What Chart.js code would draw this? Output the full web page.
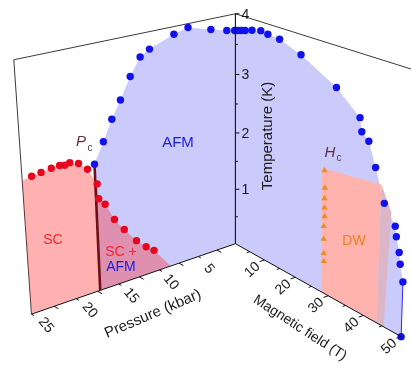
<!DOCTYPE html>
<html>
<head>
<meta charset="utf-8">
<script src="https://cdn.jsdelivr.net/npm/chart.js@4.4.1/dist/chart.umd.min.js"></script>
<style>
  html, body { margin: 0; padding: 0; background: #fff; }
  #wrap { position: relative; width: 411px; height: 369px; }
</style>
</head>
<body>
<div id="wrap"><canvas id="chart"></canvas></div>
<script>
// axis ranges of the two walls
const tempRange = [0, 4];          // K
const pressureRange = [2.5, 27.5]; // kbar, corner -> far left edge
const fieldRange = [0, 50];        // T, corner -> far right edge

// tick labels
const tempTicks = [1, 2, 3, 4];
const pressureTicks = [5, 10, 15, 20, 25];
const fieldTicks = [10, 20, 30, 40, 50];

// pressure wall: AFM transition (blue dots), from Pc towards the corner
const afmPressure = [19.7, 18.6, 17.55, 16.5, 15.3, 14.1, 13.0, 10.1, 8.4, 5.6, 3.6, 2.6];
const afmPressureTemp = [2.13, 2.45, 2.77, 3.04, 3.37, 3.64, 3.73, 3.88, 3.94, 3.83, 3.76, 3.73];

// pressure wall: SC transition (red dots)
const scPressure = [26.5, 25.5, 24.4, 23.5, 22.95, 22.4, 21.45, 20.5, 19.5, 19.4, 18.7, 17.7, 16.6, 15.2, 14.05, 13.1];
const scTemp = [2.21, 2.23, 2.25, 2.26, 2.24, 2.26, 2.21, 2.08, 1.80, 1.55, 1.43, 1.13, 0.91, 0.65, 0.49, 0.38];
const scEdgePressure = [27.5, 11.1]; // where the SC area meets the far wall and the floor
const scEdgeTemp = [2.18, 0];

// critical pressure line
const pcPressure = [19.7, 19.7];
const pcTemp = [0, 2.13];

// field wall: AFM transition (blue dots)
const afmField = [0.7, 1.9, 3.2, 5.4, 8.2, 10.4, 14.0, 20.4, 30.5, 37.0, 37.6, 39.5, 41.5, 44.1, 47.1, 47.5, 48.4, 48.8, 49.7, 50.0];
const afmFieldTemp = [3.74, 3.76, 3.78, 3.82, 3.86, 3.84, 3.82, 3.69, 3.38, 3.06, 2.86, 2.76, 2.41, 1.93, 1.66, 1.51, 1.29, 1.12, 0.87, 0.0];

// field wall: Hc (orange triangles)
const hcField = [27.9, 28.1, 28.1, 28.2, 28.3, 28.1, 28.2, 28.3, 28.4];
const hcTemp = [2.03, 1.75, 1.58, 1.43, 1.29, 1.12, 0.91, 0.67, 0.54];

// field wall: DW area and the overlap band next to it
const dwField = [27.2, 43.2, 43.6, 28.0];
const dwTemp = [2.05, 2.19, 0, 0];
const bandField = [43.2, 46.0, 45.4, 43.6];
const bandTemp = [2.19, 1.84, 0, 0];

// where the box corners land on the page
const pressureWall = { near0: [236, 245], far0: [28, 317], far1: [10, 57], near1: [236, 10] };
const fieldWall = { near0: [236, 245], far0: [405, 340], far1: [420, 68], near1: [236, 10] };

// square -> quad projective map, so each wall gets its perspective
function makeWall(c, range) {
    const [x0, y0] = c.near0, [x1, y1] = c.far0, [x2, y2] = c.far1, [x3, y3] = c.near1;
    const dx1 = x1 - x2, dx2 = x3 - x2, dx3 = x0 - x1 + x2 - x3;
    const dy1 = y1 - y2, dy2 = y3 - y2, dy3 = y0 - y1 + y2 - y3;
    const den = dx1 * dy2 - dx2 * dy1;
    const g = (dx3 * dy2 - dx2 * dy3) / den;
    const h = (dx1 * dy3 - dx3 * dy1) / den;
    const a = x1 - x0 + g * x1, b = x3 - x0 + h * x3;
    const d = y1 - y0 + g * y1, e = y3 - y0 + h * y3;
    return function(val, temp) {
        const u = (val - range[0]) / (range[1] - range[0]);
        const v = (temp - tempRange[0]) / (tempRange[1] - tempRange[0]);
        const w = g * u + h * v + 1;
        return { x: (a * u + b * v + x0) / w, y: (d * u + e * v + y0) / w };
    };
}

const toP = makeWall(pressureWall, pressureRange);
const toH = makeWall(fieldWall, fieldRange);

function pts(proj, vals, temps) {
    return vals.map((v, i) => proj(v, temps[i]));
}

const nearP = pressureRange[0], farP = pressureRange[1];

const afmPressureFill = [toP(pcPressure[0], 0)]
    .concat(pts(toP, afmPressure, afmPressureTemp))
    .concat([toP(nearP, afmPressureTemp[afmPressureTemp.length - 1]), toP(nearP, 0)]);

const scFill = [toP(scEdgePressure[0], scEdgeTemp[0])]
    .concat(pts(toP, scPressure, scTemp))
    .concat([toP(scEdgePressure[1], scEdgeTemp[1]), toP(farP, 0)]);

const afmFieldFill = [toH(0, 0), toH(0, afmFieldTemp[0])]
    .concat(pts(toH, afmField, afmFieldTemp));

// thin blue edge where the AFM area reaches the 50 T wall
const afmFieldEdge = pts(toH, afmField.slice(-2), afmFieldTemp.slice(-2));

const FONT = '"Liberation Sans", Arial, Helvetica, sans-serif';

function text(ctx, str, x, y, o) {
    ctx.save();
    ctx.translate(x, y);
    if (o.rot) ctx.rotate(o.rot * Math.PI / 180);
    ctx.font = o.font;
    ctx.fillStyle = o.color || '#1a1a1a';
    ctx.textAlign = o.align || 'center';
    ctx.textBaseline = 'middle';
    ctx.fillText(str, 0, 0);
    ctx.restore();
}

function seg(ctx, p, q, color, width) {
    ctx.beginPath();
    ctx.moveTo(p[0], p[1]);
    ctx.lineTo(q[0], q[1]);
    ctx.strokeStyle = color;
    ctx.lineWidth = width;
    ctx.stroke();
}

const boxPlugin = {
    id: 'box',
    beforeDatasetsDraw(chart) {
        const ctx = chart.ctx;
        const sx = chart.scales.x, sy = chart.scales.y;
        const px = pt => [sx.getPixelForValue(pt.x), sy.getPixelForValue(pt.y)];
        ctx.save();
        // back edges of the box
        seg(ctx, px(toP(nearP, 4)), px(toP(farP, 4)), '#3a3a3a', 1);
        seg(ctx, px(toP(farP, 4)), px(toP(farP, 0)), '#3a3a3a', 1);
        seg(ctx, px(toH(0, 4)), px(toH(50, 4)), '#3a3a3a', 1);
        ctx.restore();
    },
    afterDatasetsDraw(chart) {
        const ctx = chart.ctx;
        const sx = chart.scales.x, sy = chart.scales.y;
        const px = pt => [sx.getPixelForValue(pt.x), sy.getPixelForValue(pt.y)];
        ctx.save();

        const corner0 = px(toP(nearP, 0));
        const pEnd = px(toP(farP, 0));
        const hEnd = px(toH(50, 0));
        seg(ctx, corner0, pEnd, '#111', 1);
        seg(ctx, corner0, hEnd, '#111', 1);
        seg(ctx, corner0, px(toP(nearP, 4)), '#111', 1.1);

        const norm = (a, b) => {
            const dx = b[0] - a[0], dy = b[1] - a[1], l = Math.hypot(dx, dy);
            return [dx / l, dy / l];
        };
        const pDir = norm(corner0, pEnd);
        const hDir = norm(corner0, hEnd);

        // pressure ticks point along the field direction
        for (let p = 5; p <= 27.5; p += 2.5) {
            const t = px(toP(p, 0));
            const len = p % 5 === 0 ? 5 : 3;
            seg(ctx, t, [t[0] + hDir[0] * len, t[1] + hDir[1] * len], '#111', 1);
        }
        pressureTicks.forEach(p => {
            const t = px(toP(p, 0));
            text(ctx, String(p), t[0] - 8, t[1] + 19, { font: '14px ' + FONT, rot: 50 });
        });

        // field ticks point along the pressure direction
        for (let f = 5; f <= 50; f += 5) {
            const t = px(toH(f, 0));
            const len = f % 10 === 0 ? 5 : 3;
            seg(ctx, t, [t[0] + pDir[0] * len, t[1] + pDir[1] * len], '#111', 1);
        }
        fieldTicks.forEach(f => {
            const t = px(toH(f, 0));
            text(ctx, String(f), t[0] - 12, t[1] + 10, { font: '14px ' + FONT, rot: -42 });
        });

        // temperature ticks on the corner edge
        for (let k = 0.5; k <= 4; k += 0.5) {
            const t = px(toP(nearP, k));
            const len = Number.isInteger(k) ? 4 : 2.5;
            seg(ctx, t, [t[0] + len, t[1]], '#111', 1);
        }
        tempTicks.forEach(k => {
            const t = px(toP(nearP, k));
            text(ctx, String(k), t[0] + 6, t[1] + 1, { font: '14px ' + FONT, align: 'left' });
        });

        // axis titles
        text(ctx, 'Temperature (K)', 268, 136, { font: '15px ' + FONT, rot: -90 });
        text(ctx, 'Pressure (kbar)', 153, 314, { font: '15px ' + FONT, rot: -23 });
        text(ctx, 'Magnetic field (T)', 300, 328, { font: '14px ' + FONT, rot: 33 });

        // phase labels
        text(ctx, 'AFM', 178, 143, { font: '15px ' + FONT, color: '#1a1ae8' });
        text(ctx, 'SC', 53, 240, { font: '14px ' + FONT, color: '#f7262e' });
        text(ctx, 'SC +', 121, 252, { font: '14px ' + FONT, color: '#f7262e' });
        text(ctx, 'AFM', 121, 267, { font: '14px ' + FONT, color: '#1a1ae8' });
        text(ctx, 'DW', 354, 241, { font: '14px ' + FONT, color: '#f07f1e' });
        text(ctx, 'P', 81, 142, { font: 'italic 15px ' + FONT, color: '#5a3434' });
        text(ctx, 'c', 90, 148, { font: '10px ' + FONT, color: '#5a3434' });
        text(ctx, 'H', 330, 153, { font: 'italic 15px ' + FONT, color: '#5a3040' });
        text(ctx, 'c', 339, 158, { font: '10px ' + FONT, color: '#5a3040' });

        ctx.restore();
    }
};

const dots = (data, color, order) => ({
    data: data,
    backgroundColor: color,
    borderWidth: 0,
    pointRadius: 3.7,
    order: order
});

const area = (data, color, order) => ({
    type: 'line',
    data: data,
    fill: 'shape',
    backgroundColor: color,
    borderWidth: 0,
    pointRadius: 0,
    tension: 0,
    order: order
});

new Chart(document.getElementById('chart'), {
    type: 'scatter',
    data: {
        datasets: [
            dots(pts(toP, afmPressure, afmPressureTemp), '#1111ee', 0),
            dots(pts(toH, afmField, afmFieldTemp), '#1111ee', 0),
            dots(pts(toP, scPressure, scTemp), '#e8061f', 0),
            {
                data: pts(toH, hcField, hcTemp),
                pointStyle: 'triangle',
                pointRadius: 3.6,
                backgroundColor: '#f08a24',
                borderWidth: 0,
                order: 0
            },
            {
                type: 'line',
                data: pts(toP, pcPressure, pcTemp),
                borderColor: '#6e1016',
                borderWidth: 2.6,
                pointRadius: 0,
                fill: false,
                order: 1
            },
            {
                type: 'line',
                data: afmFieldEdge,
                borderColor: '#2a2af0',
                borderWidth: 1,
                pointRadius: 0,
                fill: false,
                order: 1
            },
            area(scFill, 'rgba(255, 40, 40, 0.36)', 2),
            area(pts(toH, bandField, bandTemp), '#dbb6c6', 3),
            area(pts(toH, dwField, dwTemp), '#ffb3ae', 4),
            area(afmPressureFill, '#cbcbfb', 5),
            area(afmFieldFill, '#cbcbfb', 5)
        ]
    },
    options: {
        responsive: true,
        maintainAspectRatio: false,
        animation: false,
        events: [],
        layout: { padding: 0 },
        plugins: {
            legend: { display: false },
            tooltip: { enabled: false }
        },
        scales: {
            x: { type: 'linear', min: 0, max: 411, display: false },
            y: { type: 'linear', min: 0, max: 369, reverse: true, display: false }
        }
    },
    plugins: [boxPlugin]
});
</script>
</body>
</html>
